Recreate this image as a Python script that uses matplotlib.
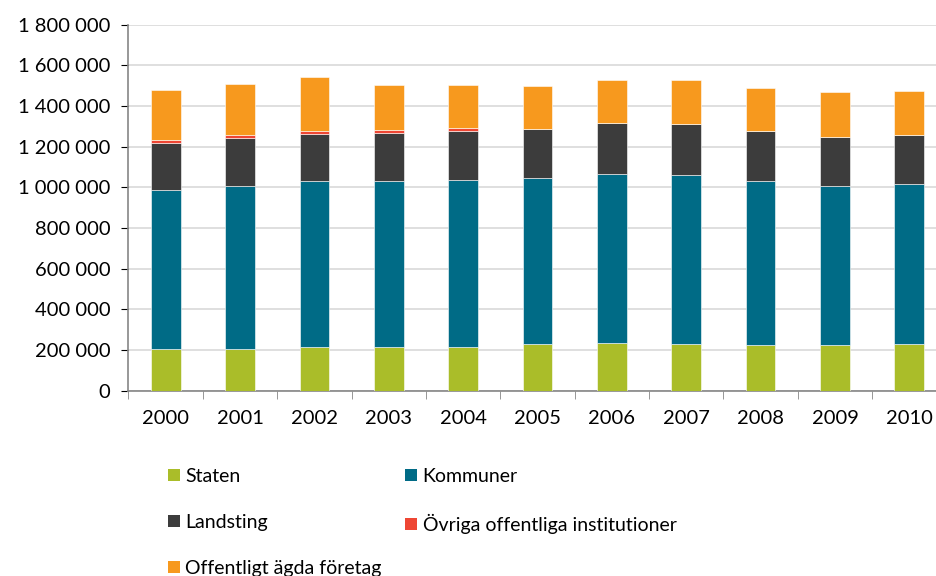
import matplotlib
matplotlib.use('Agg')
import matplotlib.pyplot as plt
from matplotlib.ticker import FuncFormatter, FixedLocator
from matplotlib.patches import Patch
import numpy as np

plt.rcParams['font.family'] = ['Lato', 'DejaVu Sans']

# data
years = ['2000', '2001', '2002', '2003', '2004', '2005',
         '2006', '2007', '2008', '2009', '2010']
staten = [204000, 204000, 212000, 215000, 216000, 229000,
          234000, 229000, 225000, 225000, 227000]
kommuner = [781000, 803000, 817000, 814000, 818000, 815000,
            829000, 829000, 805000, 779000, 787000]
landsting = [234000, 236000, 232000, 236000, 244000, 244000,
             251000, 251000, 248000, 244000, 241000]
ovriga = [13000, 15000, 17000, 15000, 14000, 0,
          0, 0, 0, 0, 0]
foretag = [244000, 249000, 265000, 222000, 212000, 209000,
           213000, 218000, 211000, 221000, 218000]

series = [
    ('Staten', staten, '#AABD29'),
    ('Kommuner', kommuner, '#006B86'),
    ('Landsting', landsting, '#3C3C3C'),
    ('Övriga offentliga institutioner', ovriga, '#EE4634'),
    ('Offentligt ägda företag', foretag, '#F7991E'),
]

fig = plt.figure(figsize=(9.37, 5.76), dpi=100)
# axis runs slightly past the right edge, as in the original
ax = fig.add_axes([128.5 / 937, 1 - 390.5 / 576, 818 / 937, 366 / 576])

x = np.arange(len(years))
bottom = np.zeros(len(years))
handles = {}
for name, vals, col in series:
    vals = np.array(vals, dtype=float)
    ax.bar(x, vals, 0.4, bottom=bottom, color=col,
           edgecolor='white', linewidth=0.4, zorder=3)
    bottom += vals
    handles[name] = Patch(facecolor=col, edgecolor='none')

ax.set_xlim(-0.5, len(years) - 0.5)
ax.set_ylim(0, 1800000)
ax.set_yticks(np.arange(0, 1800001, 200000))
ax.yaxis.set_major_formatter(FuncFormatter(lambda v, p: f'{int(v):,}'.replace(',', ' ')))
ax.yaxis.grid(True, color='#D9D9D9', linewidth=1.2, zorder=0)

ax.set_xticks(x)
ax.set_xticklabels(years)
ax.xaxis.set_minor_locator(FixedLocator(np.arange(-0.5, len(years), 1)))
ax.tick_params(axis='x', which='major', length=0, pad=14)
ax.tick_params(axis='x', which='minor', length=6, color='#868686', direction='out')
ax.tick_params(axis='y', length=5, color='#868686', pad=8)
ax.tick_params(labelsize=14.5, colors='black')

for s in ['top', 'right']:
    ax.spines[s].set_visible(False)
for s in ['left', 'bottom']:
    ax.spines[s].set_color('#868686')
    ax.spines[s].set_linewidth(1.2)

order = ['Staten', 'Landsting', 'Offentligt ägda företag',
         'Kommuner', 'Övriga offentliga institutioner']
fig.legend([handles[n] for n in order], order, ncol=2, frameon=False,
           loc='upper left', bbox_to_anchor=(168 / 937, 1 - 468 / 576),
           fontsize=14, handlelength=0.6, handleheight=0.6, handletextpad=0.3,
           labelspacing=1.48, columnspacing=1.2, borderpad=0, borderaxespad=0)

fig.savefig('out.png', dpi=100)
